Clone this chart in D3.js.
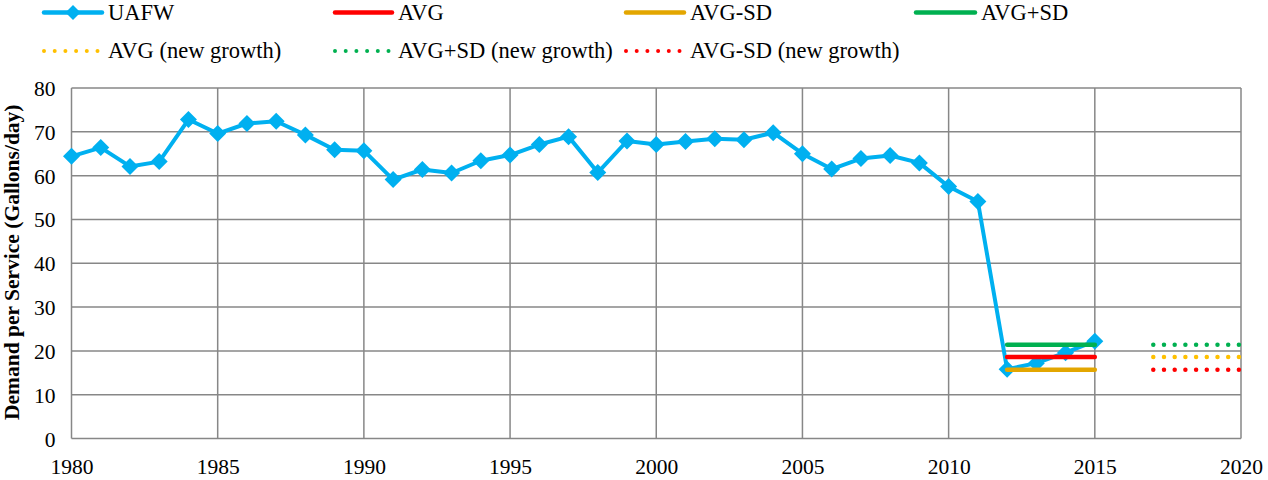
<!DOCTYPE html>
<html><head><meta charset="utf-8">
<script src="https://cdn.jsdelivr.net/npm/d3@7"></script>
<style>
html,body{margin:0;padding:0;background:#fff;}
svg{display:block;}
text{font-family:"Liberation Serif","Times New Roman",serif;fill:#000;}
</style></head>
<body><svg id="c" width="1268" height="480"></svg>
<script>
const years = [1980,1981,1982,1983,1984,1985,1986,1987,1988,1989,1990,1991,1992,1993,1994,1995,1996,1997,1998,1999,2000,2001,2002,2003,2004,2005,2006,2007,2008,2009,2010,2011,2012,2013,2014,2015];
const uafw = [64.4,66.4,62.1,63.2,72.8,69.6,71.9,72.4,69.3,65.9,65.7,59.1,61.4,60.6,63.4,64.7,67.1,68.9,60.7,67.9,67.1,67.8,68.4,68.2,69.8,65.0,61.5,63.9,64.6,62.9,57.5,54.1,15.8,17.2,19.6,22.2];
const avgYears = [2012,2015];
const avgValue = 18.6;
const avgPlusSd = 21.4;
const avgMinusSd = 15.7;
const growthYears = [2017,2020];
const xTicks = [1980,1985,1990,1995,2000,2005,2010,2015,2020];
const yTicks = [0,10,20,30,40,50,60,70,80];
const yLabel = "Demand per Service (Gallons/day)";
const seriesNames = ["UAFW","AVG","AVG-SD","AVG+SD","AVG (new growth)","AVG+SD (new growth)","AVG-SD (new growth)"];

const colors = {uafw:"#00B0F0", avg:"#FF0000", avgMinus:"#E3A600", avgPlus:"#00B050", gold:"#FFC000"};

const svg = d3.select("#c");
const L = 71.5, R = 1241, T = 88, B = 438.5;
const x = d3.scaleLinear().domain([1980,2020]).range([L,R]);
const y = d3.scaleLinear().domain([0,80]).range([B,T]);

// grid
const g = svg.append("g");
g.selectAll(".hg").data(yTicks).enter().append("line")
  .attr("x1",L).attr("x2",R).attr("y1",d=>y(d)).attr("y2",d=>y(d))
  .attr("stroke","#878787").attr("stroke-width",1.5);
g.selectAll(".vg").data(xTicks).enter().append("line")
  .attr("y1",T).attr("y2",B).attr("x1",d=>x(d)).attr("x2",d=>x(d))
  .attr("stroke","#878787").attr("stroke-width",1.5);

// axes labels
const yAxis = d3.axisLeft(y).tickValues(yTicks).tickSize(0).tickPadding(0);
const ya = svg.append("g").attr("transform",`translate(${L-16},0)`).call(yAxis);
ya.select(".domain").remove();
ya.selectAll("text").style("font-family","Liberation Serif").style("font-size","21.5px").attr("dy","0.35em");
const xAxis = d3.axisBottom(x).tickValues(xTicks).tickFormat(d3.format("d")).tickSize(0).tickPadding(0);
const xa = svg.append("g").attr("transform",`translate(0,${B+19})`).call(xAxis);
xa.select(".domain").remove();
xa.selectAll("text").style("font-family","Liberation Serif").style("font-size","21.5px").attr("dy","0.75em");

svg.append("text").attr("transform",`translate(19,${(T+B)/2 - 1}) rotate(-90)`)
  .attr("text-anchor","middle").style("font-size","21.5px").style("font-weight","bold").text(yLabel);

// series
const line = d3.line().x((d,i)=>x(years[i])).y(d=>y(d));
svg.append("path").datum(uafw).attr("d",line).attr("fill","none")
  .attr("stroke",colors.uafw).attr("stroke-width",4).attr("stroke-linejoin","round");
const diamond = (cx,cy,r)=>`M${cx},${cy-r}L${cx+r},${cy}L${cx},${cy+r}L${cx-r},${cy}Z`;
svg.selectAll(".mk").data(uafw).enter().append("path")
  .attr("d",(d,i)=>diamond(x(years[i]),y(d),8.5)).attr("fill",colors.uafw);

const hl = (yrs,v,col,dotted)=>{
  const p = svg.append("line").attr("x1",x(yrs[0])).attr("x2",x(yrs[1]))
    .attr("y1",y(v)).attr("y2",y(v)).attr("stroke",col);
  if(dotted){ p.attr("stroke-width",4.5).attr("stroke-linecap","round").attr("stroke-dasharray","0 10.7"); }
  else { p.attr("stroke-width",4.5).attr("stroke-linecap","round"); }
};
hl(avgYears,avgPlusSd,colors.avgPlus,false);
hl(avgYears,avgValue,colors.avg,false);
hl(avgYears,avgMinusSd,colors.avgMinus,false);
hl(growthYears,avgPlusSd,colors.avgPlus,true);
hl(growthYears,avgValue,colors.gold,true);
hl(growthYears,avgMinusSd,colors.avg,true);

// legend
const legend = [
  {name:seriesNames[0], col:colors.uafw, x1:44, x2:102, tx:108, row:0, dot:false, mk:true},
  {name:seriesNames[1], col:colors.avg, x1:335, x2:392, tx:398, row:0, dot:false},
  {name:seriesNames[2], col:colors.avgMinus, x1:626, x2:684, tx:690, row:0, dot:false},
  {name:seriesNames[3], col:colors.avgPlus, x1:916, x2:975, tx:981, row:0, dot:false},
  {name:seriesNames[4], col:colors.gold, x1:44, x2:98, tx:108, row:1, dot:true},
  {name:seriesNames[5], col:colors.avgPlus, x1:335, x2:389, tx:398, row:1, dot:true},
  {name:seriesNames[6], col:colors.avg, x1:626, x2:680, tx:690, row:1, dot:true}
];
const rowY = [12.5,51];
legend.forEach(d=>{
  const ly = rowY[d.row];
  const l = svg.append("line").attr("x1",d.x1).attr("x2",d.x2).attr("y1",ly).attr("y2",ly)
    .attr("stroke",d.col).attr("stroke-width",d.dot?4:4.5).attr("stroke-linecap","round");
  if(d.dot) l.attr("stroke-dasharray","0 10.7");
  if(d.mk) svg.append("path").attr("d",diamond((d.x1+d.x2)/2,ly,7.5)).attr("fill",d.col);
  svg.append("text").attr("x",d.tx).attr("y",ly+7).style("font-size","22.5px").text(d.name);
});
</script></body></html>
